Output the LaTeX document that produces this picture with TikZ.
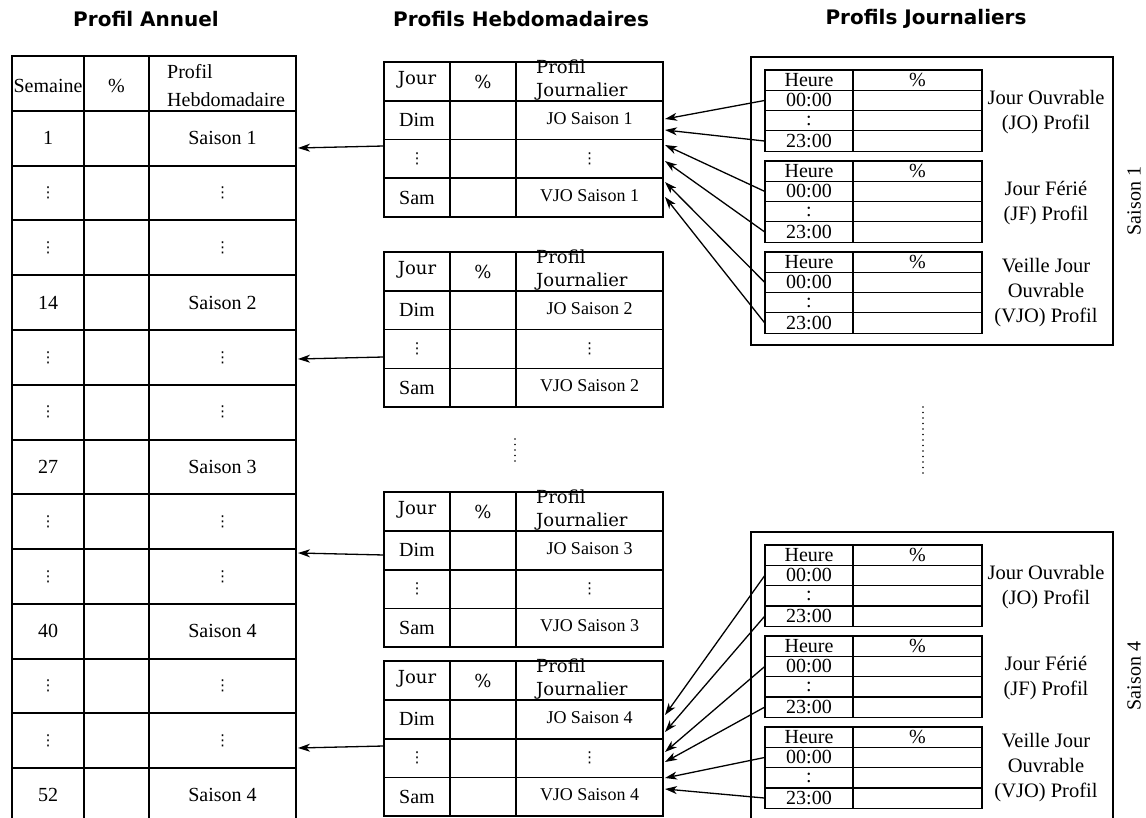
\documentclass[tikz,border=0pt]{standalone}
\usepackage{fontspec}
\setmainfont{Liberation Serif}
\newfontfamily\titlefont{DejaVu Sans}
\newfontfamily\headfont{DejaVu Serif}
\usetikzlibrary{arrows.meta}
\newcommand{\vdotz}{{\titlefont\fontsize{15}{15}\selectfont ⋮}}

\begin{document}
\begin{tikzpicture}[x=1pt, y=-1pt,
    anngrid/.style={line width=2pt},
    wkgrid/.style={line width=1.6pt},
    dygrid/.style={line width=1.2pt},
    dybox/.style={line width=1.4pt},
    link/.style={line width=1.3pt, -{Stealth[length=12pt, width=8pt, inset=3.5pt]}},
    boxtitle/.style={font=\titlefont\bfseries\fontsize{20}{24}\selectfont, inner sep=0pt, anchor=base},
    celltext/.style={font=\fontsize{20}{24}\selectfont, inner sep=0pt},
    cellsmall/.style={font=\fontsize{18}{22}\selectfont, inner sep=0pt},
    headtext/.style={font=\headfont\fontsize{18}{23.3}\selectfont, inner sep=0pt},
    hourcell/.style={celltext, minimum width=88pt},
    sidetext/.style={font=\fontsize{20.5}{25}\selectfont, inner sep=0pt, align=center},
    dotline/.style={line width=1.8pt, line cap=round, dash pattern=on 0pt off 5.5pt}]
    \useasboundingbox (0,0) rectangle (1146,818);
    \clip (0,0) rectangle (1146,818);

    % Marking titles
    \node[boxtitle] (tann) at (146,26.7) {Profil Annuel};
    \node[boxtitle] (thebdo) at (521,26.7) {Profils Hebdomadaires};
    \node[boxtitle] (tjour) at (926,24.5) {Profils Journaliers};

    % Drawing annual table
    \draw[anngrid] (12,830) -- (12,56) -- (296,56) -- (296,830);
    \draw[anngrid] (84,56) -- (84,830);
    \draw[anngrid] (149,56) -- (149,830);
    \draw[anngrid] (12,111) -- (296,111);
    \draw[anngrid] (12,165.75) -- (296,165.75);
    \draw[anngrid] (12,220.5) -- (296,220.5);
    \draw[anngrid] (12,275.25) -- (296,275.25);
    \draw[anngrid] (12,330) -- (296,330);
    \draw[anngrid] (12,384.75) -- (296,384.75);
    \draw[anngrid] (12,439.5) -- (296,439.5);
    \draw[anngrid] (12,494.25) -- (296,494.25);
    \draw[anngrid] (12,549) -- (296,549);
    \draw[anngrid] (12,603.75) -- (296,603.75);
    \draw[anngrid] (12,658.5) -- (296,658.5);
    \draw[anngrid] (12,713.25) -- (296,713.25);
    \draw[anngrid] (12,768) -- (296,768);
    \draw[anngrid] (12,822.75) -- (296,822.75);

    % Marking annual table texts
    \node[celltext] (asem) at (48,86) {Semaine};
    \node[celltext] (apct) at (116.5,86) {\%};
    \node[celltext, align=left, anchor=north west, font=\fontsize{20}{27.7}\selectfont] (aprof) at (167,64.5) {Profil\\Hebdomadaire};
    \node[celltext] (a1n) at (48,138.4) {1};
    \node[celltext] (a1s) at (222.5,138.4) {Saison 1};
    \node[celltext] (a2n) at (48,193.1) {\vdotz};
    \node[celltext] (a2s) at (222.5,193.1) {\vdotz};
    \node[celltext] (a3n) at (48,247.9) {\vdotz};
    \node[celltext] (a3s) at (222.5,247.9) {\vdotz};
    \node[celltext] (a4n) at (48,302.6) {14};
    \node[celltext] (a4s) at (222.5,302.6) {Saison 2};
    \node[celltext] (a5n) at (48,357.4) {\vdotz};
    \node[celltext] (a5s) at (222.5,357.4) {\vdotz};
    \node[celltext] (a6n) at (48,412.1) {\vdotz};
    \node[celltext] (a6s) at (222.5,412.1) {\vdotz};
    \node[celltext] (a7n) at (48,466.9) {27};
    \node[celltext] (a7s) at (222.5,466.9) {Saison 3};
    \node[celltext] (a8n) at (48,521.6) {\vdotz};
    \node[celltext] (a8s) at (222.5,521.6) {\vdotz};
    \node[celltext] (a9n) at (48,576.4) {\vdotz};
    \node[celltext] (a9s) at (222.5,576.4) {\vdotz};
    \node[celltext] (a10n) at (48,631.1) {40};
    \node[celltext] (a10s) at (222.5,631.1) {Saison 4};
    \node[celltext] (a11n) at (48,685.9) {\vdotz};
    \node[celltext] (a11s) at (222.5,685.9) {\vdotz};
    \node[celltext] (a12n) at (48,740.6) {\vdotz};
    \node[celltext] (a12s) at (222.5,740.6) {\vdotz};
    \node[celltext] (a13n) at (48,795.4) {52};
    \node[celltext] (a13s) at (222.5,795.4) {Saison 4};

    % Drawing weekly table 1
    \draw[wkgrid] (384,62) rectangle (663,217);
    \draw[wkgrid] (384,101) -- (663,101) (384,139.7) -- (663,139.7) (384,178.3) -- (663,178.3);
    \draw[wkgrid] (450,62) -- (450,217) (516,62) -- (516,217);
    \node[headtext] (w1jour) at (417,80) {Jour};
    \node[headtext] (w1pct) at (483,82) {\%};
    \node[headtext, align=left, anchor=north west] (w1prof) at (536,59.5) {Profil\\Journalier};
    \node[celltext] (w1dim) at (417,120.3) {Dim};
    \node[cellsmall] (w1jo) at (589.5,118.5) {JO Saison 1};
    \node[celltext] (w1d1) at (417,159) {\vdotz};
    \node[celltext] (w1d2) at (589.5,159) {\vdotz};
    \node[celltext] (w1sam) at (417,197.7) {Sam};
    \node[cellsmall] (w1vjo) at (589.5,196) {VJO Saison 1};

    % Drawing weekly table 2
    \draw[wkgrid] (384,252) rectangle (663,407);
    \draw[wkgrid] (384,291) -- (663,291) (384,329.7) -- (663,329.7) (384,368.3) -- (663,368.3);
    \draw[wkgrid] (450,252) -- (450,407) (516,252) -- (516,407);
    \node[headtext] (w2jour) at (417,270) {Jour};
    \node[headtext] (w2pct) at (483,272) {\%};
    \node[headtext, align=left, anchor=north west] (w2prof) at (536,249.5) {Profil\\Journalier};
    \node[celltext] (w2dim) at (417,310.3) {Dim};
    \node[cellsmall] (w2jo) at (589.5,308.5) {JO Saison 2};
    \node[celltext] (w2d1) at (417,349) {\vdotz};
    \node[celltext] (w2d2) at (589.5,349) {\vdotz};
    \node[celltext] (w2sam) at (417,387.7) {Sam};
    \node[cellsmall] (w2vjo) at (589.5,386) {VJO Saison 2};

    % Drawing weekly table 3
    \draw[wkgrid] (384,492) rectangle (663,647);
    \draw[wkgrid] (384,531) -- (663,531) (384,569.7) -- (663,569.7) (384,608.3) -- (663,608.3);
    \draw[wkgrid] (450,492) -- (450,647) (516,492) -- (516,647);
    \node[headtext] (w3jour) at (417,510) {Jour};
    \node[headtext] (w3pct) at (483,512) {\%};
    \node[headtext, align=left, anchor=north west] (w3prof) at (536,489.5) {Profil\\Journalier};
    \node[celltext] (w3dim) at (417,550.3) {Dim};
    \node[cellsmall] (w3jo) at (589.5,548.5) {JO Saison 3};
    \node[celltext] (w3d1) at (417,589) {\vdotz};
    \node[celltext] (w3d2) at (589.5,589) {\vdotz};
    \node[celltext] (w3sam) at (417,627.7) {Sam};
    \node[cellsmall] (w3vjo) at (589.5,626) {VJO Saison 3};

    % Drawing weekly table 4
    \draw[wkgrid] (384,661) rectangle (663,816);
    \draw[wkgrid] (384,700) -- (663,700) (384,738.7) -- (663,738.7) (384,777.3) -- (663,777.3);
    \draw[wkgrid] (450,661) -- (450,816) (516,661) -- (516,816);
    \node[headtext] (w4jour) at (417,679) {Jour};
    \node[headtext] (w4pct) at (483,681) {\%};
    \node[headtext, align=left, anchor=north west] (w4prof) at (536,658.5) {Profil\\Journalier};
    \node[celltext] (w4dim) at (417,719.3) {Dim};
    \node[cellsmall] (w4jo) at (589.5,717.5) {JO Saison 4};
    \node[celltext] (w4d1) at (417,758) {\vdotz};
    \node[celltext] (w4d2) at (589.5,758) {\vdotz};
    \node[celltext] (w4sam) at (417,796.7) {Sam};
    \node[cellsmall] (w4vjo) at (589.5,795) {VJO Saison 4};

    % Drawing dots between weekly tables
    \draw[dotline] (515,439) -- (515,463);

    % Drawing daily box season 1
    \draw[dybox] (751,57) rectangle (1113,345);
    \node[celltext, rotate=90] (s1lab) at (1134,201) {Saison 1};

    \draw[dygrid] (765,70) rectangle (982,151.2);
    \draw[dygrid] (765,90.3) -- (982,90.3) (765,110.6) -- (982,110.6) (765,130.9) -- (982,130.9) (853,70) -- (853,151.2);
    \node[hourcell] (s1ah) at (809,80.15) {Heure};
    \node[celltext] (s1ap) at (917.5,80.15) {\%};
    \node[hourcell] (s1a0) at (809,100.45) {00:00};
    \node[celltext] (s1ac) at (809,120.75) {:};
    \node[hourcell] (s1a23) at (809,141.05) {23:00};
    \node[sidetext] (s1jo) at (1046,112) {Jour Ouvrable\\(JO) Profil};

    \draw[dygrid] (765,161) rectangle (982,242.2);
    \draw[dygrid] (765,181.3) -- (982,181.3) (765,201.6) -- (982,201.6) (765,221.9) -- (982,221.9) (853,161) -- (853,242.2);
    \node[hourcell] (s1bh) at (809,171.15) {Heure};
    \node[celltext] (s1bp) at (917.5,171.15) {\%};
    \node[hourcell] (s1b0) at (809,191.45) {00:00};
    \node[celltext] (s1bc) at (809,211.75) {:};
    \node[hourcell] (s1b23) at (809,232.05) {23:00};
    \node[sidetext] (s1jf) at (1046,203) {Jour Férié\\(JF) Profil};

    \draw[dygrid] (765,252) rectangle (982,333.2);
    \draw[dygrid] (765,272.3) -- (982,272.3) (765,292.6) -- (982,292.6) (765,312.9) -- (982,312.9) (853,252) -- (853,333.2);
    \node[hourcell] (s1ch) at (809,262.15) {Heure};
    \node[celltext] (s1cp) at (917.5,262.15) {\%};
    \node[hourcell] (s1c0) at (809,282.45) {00:00};
    \node[celltext] (s1cc) at (809,302.75) {:};
    \node[hourcell] (s1c23) at (809,323.05) {23:00};
    \node[sidetext] (s1vjo) at (1046,293) {Veille Jour\\Ouvrable\\(VJO) Profil};

    % Drawing dots between daily boxes
    \draw[dotline] (923,407) -- (923,473);

    % Drawing daily box season 4
    \draw[dybox] (751,532) rectangle (1113,820);
    \node[celltext, rotate=90] (s4lab) at (1134,676) {Saison 4};

    \draw[dygrid] (765,545) rectangle (982,626.2);
    \draw[dygrid] (765,565.3) -- (982,565.3) (765,585.6) -- (982,585.6) (765,605.9) -- (982,605.9) (853,545) -- (853,626.2);
    \node[hourcell] (s4ah) at (809,555.15) {Heure};
    \node[celltext] (s4ap) at (917.5,555.15) {\%};
    \node[hourcell] (s4a0) at (809,575.45) {00:00};
    \node[celltext] (s4ac) at (809,595.75) {:};
    \node[hourcell] (s4a23) at (809,616.05) {23:00};
    \node[sidetext] (s4jo) at (1046,587) {Jour Ouvrable\\(JO) Profil};

    \draw[dygrid] (765,636) rectangle (982,717.2);
    \draw[dygrid] (765,656.3) -- (982,656.3) (765,676.6) -- (982,676.6) (765,696.9) -- (982,696.9) (853,636) -- (853,717.2);
    \node[hourcell] (s4bh) at (809,646.15) {Heure};
    \node[celltext] (s4bp) at (917.5,646.15) {\%};
    \node[hourcell] (s4b0) at (809,666.45) {00:00};
    \node[celltext] (s4bc) at (809,686.75) {:};
    \node[hourcell] (s4b23) at (809,707.05) {23:00};
    \node[sidetext] (s4jf) at (1046,678) {Jour Férié\\(JF) Profil};

    \draw[dygrid] (765,727) rectangle (982,808.2);
    \draw[dygrid] (765,747.3) -- (982,747.3) (765,767.6) -- (982,767.6) (765,787.9) -- (982,787.9) (853,727) -- (853,808.2);
    \node[hourcell] (s4ch) at (809,737.15) {Heure};
    \node[celltext] (s4cp) at (917.5,737.15) {\%};
    \node[hourcell] (s4c0) at (809,757.45) {00:00};
    \node[celltext] (s4cc) at (809,777.75) {:};
    \node[hourcell] (s4c23) at (809,798.05) {23:00};
    \node[sidetext] (s4vjo) at (1046,768) {Veille Jour\\Ouvrable\\(VJO) Profil};

    % Drawing arrows from weekly tables to annual table
    \coordinate (w1out) at (384,146);
    \coordinate (w2out) at (384,357);
    \coordinate (w3out) at (384,555);
    \coordinate (w4out) at (384,746);
    \coordinate (a1in) at (298,148);
    \coordinate (a5in) at (298,359);
    \coordinate (a8in) at (298,553);
    \coordinate (a12in) at (298,748);
    \draw[link] (w1out) -- (a1in);
    \draw[link] (w2out) -- (a5in);
    \draw[link] (w3out) -- (a8in);
    \draw[link] (w4out) -- (a12in);

    % Drawing arrows from season 1 profiles to weekly table 1
    \coordinate (w1t1) at (665,119);
    \coordinate (w1t2) at (665,130);
    \coordinate (w1t3) at (665,145);
    \coordinate (w1t4) at (665,161);
    \coordinate (w1t5) at (665,182);
    \coordinate (w1t6) at (665,197);
    \draw[link] (s1a0.west) -- (w1t1);
    \draw[link] (s1a23.west) -- (w1t2);
    \draw[link] (s1b0.west) -- (w1t3);
    \draw[link] (s1b23.west) -- (w1t4);
    \draw[link] (s1c0.west) -- (w1t5);
    \draw[link] (s1c23.west) -- (w1t6);

    % Drawing arrows from season 4 profiles to weekly table 4
    \coordinate (w4t1) at (665,715);
    \coordinate (w4t2) at (665,732);
    \coordinate (w4t3) at (665,752);
    \coordinate (w4t4) at (665,762);
    \coordinate (w4t5) at (665,778);
    \coordinate (w4t6) at (665,789);
    \draw[link] (s4a0.west) -- (w4t1);
    \draw[link] (s4a23.west) -- (w4t2);
    \draw[link] (s4b0.west) -- (w4t3);
    \draw[link] (s4b23.west) -- (w4t4);
    \draw[link] (s4c0.west) -- (w4t5);
    \draw[link] (s4c23.west) -- (w4t6);
\end{tikzpicture}
\end{document}
